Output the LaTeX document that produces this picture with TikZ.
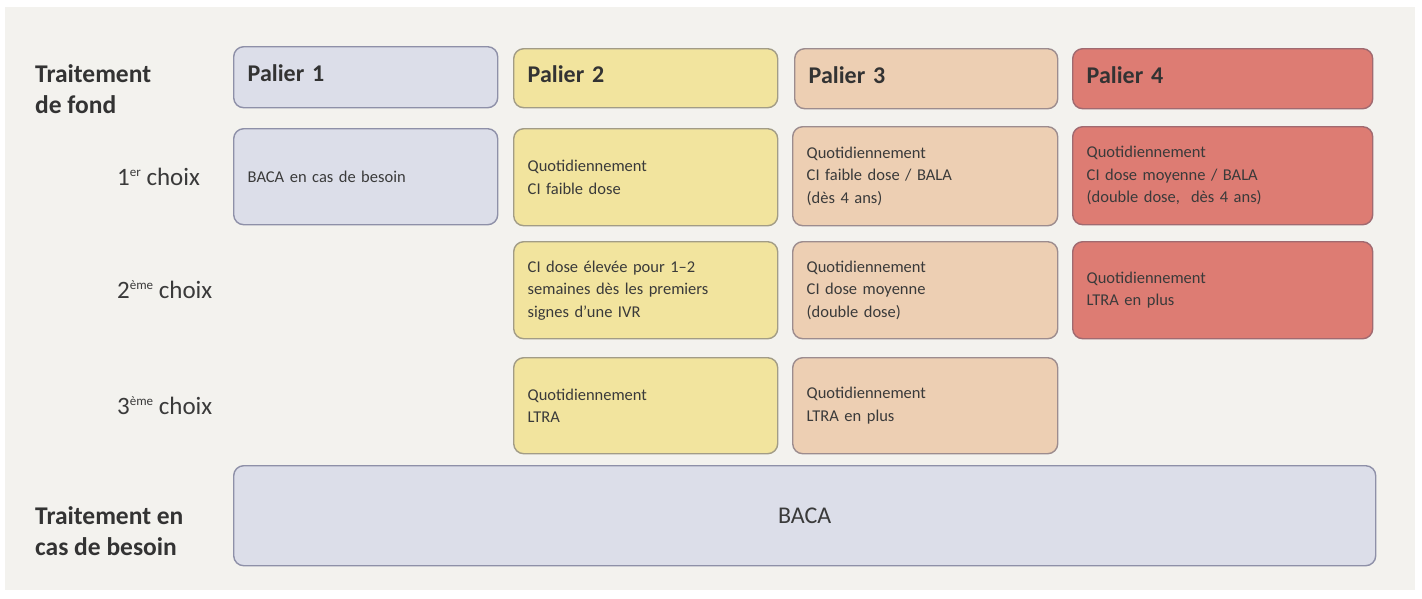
\documentclass[tikz,border=0pt]{standalone}
\usepackage{fontspec}
\setmainfont{Carlito}
\usetikzlibrary{positioning}
\definecolor{bgpanel}{HTML}{F3F2EE}
\definecolor{pOnefill}{HTML}{DCDEE9}
\definecolor{pOnedraw}{HTML}{8E90A8}
\definecolor{pTwofill}{HTML}{F2E49E}
\definecolor{pTwodraw}{HTML}{A29C86}
\definecolor{pThreefill}{HTML}{EDCFB3}
\definecolor{pThreedraw}{HTML}{9C8C8E}
\definecolor{pFourfill}{HTML}{DD7C73}
\definecolor{pFourdraw}{HTML}{A06A70}
\definecolor{txt}{HTML}{3A3A3A}
\newcommand{\smallsup}[1]{\raisebox{0.75ex}{\fontsize{13}{13}\selectfont #1}}
\tikzset{
  cell/.style={rounded corners=10pt, line width=1.4pt, anchor=north west,
    inner xsep=14pt, inner ysep=0pt, align=left, text=txt,
    font=\fontsize{16.5}{22.5}\selectfont},
  head/.style={cell, font=\fontsize{24}{28}\bfseries\selectfont, text=black!80,
    text height=18pt, text depth=9pt},
  lvlOne/.style={fill=pOnefill, draw=pOnedraw},
  lvlTwo/.style={fill=pTwofill, draw=pTwodraw},
  lvlThree/.style={fill=pThreefill, draw=pThreedraw},
  lvlFour/.style={fill=pFourfill, draw=pFourdraw},
  rowlab/.style={anchor=west, text=txt, font=\fontsize{25}{28}\selectfont, inner sep=0pt},
  sidelab/.style={anchor=west, align=left, text=black!80, font=\fontsize{25.5}{31}\bfseries\selectfont, inner sep=0pt}
}
\begin{document}
\begin{tikzpicture}[x=1pt,y=1pt]
\useasboundingbox (0,0) rectangle (1422,-598);
\fill[white] (0,0) rectangle (1422,-598);
\fill[bgpanel] (5,-7) rectangle (1415,-590);
% headers
\node[head, lvlOne, text width=236pt, minimum height=61pt] (p1) at (233,-46) {Palier 1};
\node[head, lvlTwo, text width=236pt, minimum height=59pt] (p2) at (513,-48) {Palier 2};
\node[head, lvlThree, text width=235pt, minimum height=60pt] (p3) at (794,-48) {Palier 3};
\node[head, lvlFour, text width=272pt, minimum height=60pt] (p4) at (1072,-48) {Palier 4};
% row 1
\node[cell, lvlOne, text width=236pt, minimum height=96pt] (r1p1) at (233,-128) {BACA en cas de besoin};
\node[cell, lvlTwo, text width=236pt, minimum height=97pt] (r1p2) at (513,-128) {Quotidiennement\\CI faible dose};
\node[cell, lvlThree, text width=237pt, minimum height=99pt] (r1p3) at (792,-126) {Quotidiennement\\CI faible dose / BALA\\(dès 4 ans)};
\node[cell, lvlFour, text width=272pt, minimum height=98pt] (r1p4) at (1072,-126) {Quotidiennement\\CI dose moyenne / BALA\\(double dose,~ dès 4 ans)};
% row 2
\node[cell, lvlTwo, text width=236pt, minimum height=97pt] (r2p2) at (513,-241) {CI dose élevée pour 1–2\\semaines dès les premiers\\signes d’une IVR};
\node[cell, lvlThree, text width=237pt, minimum height=97pt] (r2p3) at (792,-241) {Quotidiennement\\CI dose moyenne\\(double dose)};
\node[cell, lvlFour, text width=272pt, minimum height=97pt] (r2p4) at (1072,-241) {Quotidiennement\\LTRA en plus};
% row 3
\node[cell, lvlTwo, text width=236pt, minimum height=96pt] (r3p2) at (513,-357) {Quotidiennement\\LTRA};
\node[cell, lvlThree, text width=237pt, minimum height=96pt] (r3p3) at (792,-357) {Quotidiennement\\LTRA en plus};
% bottom
\node[cell, lvlOne, minimum width=1142pt, minimum height=100pt, align=center, inner xsep=0pt,
  font=\fontsize{24}{28}\selectfont] (baca) at (233,-465) {BACA};
% labels
\node[sidelab] (fond) at (35,-89) {Traitement\\de fond};
\node[rowlab] (c1) at (117,-177) {1\smallsup{er} choix};
\node[rowlab] (c2) at (117,-290) {2\smallsup{ème} choix};
\node[rowlab] (c3) at (117,-406) {3\smallsup{ème} choix};
\node[sidelab] (besoin) at (35,-531) {Traitement en\\cas de besoin};
\end{tikzpicture}
\end{document}
